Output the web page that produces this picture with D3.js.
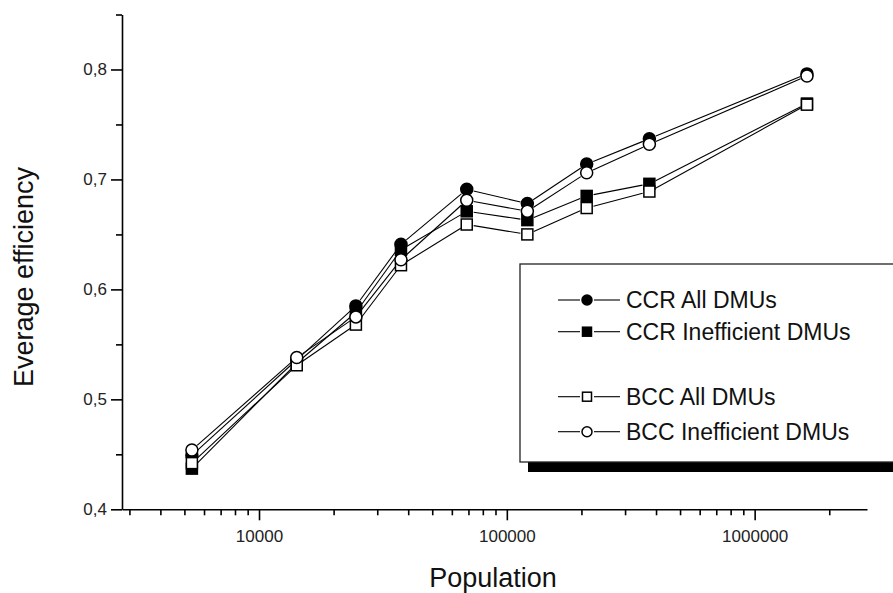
<!DOCTYPE html>
<html>
<head>
<meta charset="utf-8">
<script src="https://cdn.jsdelivr.net/npm/d3@7"></script>
<style>
html,body{margin:0;padding:0;background:#fff;}
svg{display:block;font-family:"Liberation Sans",Arial,sans-serif;}
</style>
</head>
<body>
<svg id="chart" width="893" height="593"></svg>
<script>
// ---- data ----
const population = [5360, 14200, 24600, 37400, 68900, 121000, 210000, 376000, 1626000];
const ccrAll  = [0.449, 0.536, 0.585, 0.641, 0.691, 0.678, 0.714, 0.737, 0.796];
const ccrIneff = [0.437, 0.533, 0.579, 0.636, 0.671, 0.663, 0.685, 0.696, 0.769];
const bccAll  = [0.442, 0.531, 0.568, 0.622, 0.659, 0.650, 0.674, 0.689, 0.768];
const bccIneff = [0.454, 0.538, 0.575, 0.627, 0.681, 0.671, 0.706, 0.732, 0.794];
const seriesNames = ["CCR All DMUs", "CCR Inefficient DMUs", "BCC All DMUs", "BCC Inefficient DMUs"];
const xMajorTicks = [10000, 100000, 1000000];
const xMinorTicks = [3000,4000,5000,6000,7000,8000,9000,20000,30000,40000,50000,60000,70000,80000,90000,200000,300000,400000,500000,600000,700000,800000,900000,2000000];
const yMajorTicks = [0.4, 0.5, 0.6, 0.7, 0.8];
const yMinorTicks = [0.45, 0.55, 0.65, 0.75, 0.85];

const series = [
  {name: seriesNames[0], values: ccrAll,  shape: "circle", fill: "#000"},
  {name: seriesNames[1], values: ccrIneff, shape: "square", fill: "#000"},
  {name: seriesNames[2], values: bccAll,  shape: "square", fill: "#fff"},
  {name: seriesNames[3], values: bccIneff, shape: "circle", fill: "#fff"}
];

const svg = d3.select("#chart");
const x = d3.scaleLog().domain([2800, 2840000]).range([122, 867]);
const y = d3.scaleLinear().domain([0.4, 0.85]).range([509.3, 14.5]);

// ---- axes ----
const fmtY = d => d3.format(".1f")(d).replace(".", ",");
const gx = svg.append("g").attr("transform", `translate(0,${y(0.4)})`);
gx.call(d3.axisBottom(x).tickValues(xMajorTicks).tickSize(11).tickSizeOuter(0).tickPadding(10).tickFormat(d3.format("d")));
const gxm = svg.append("g").attr("transform", `translate(0,${y(0.4)})`);
gxm.call(d3.axisBottom(x).tickValues(xMinorTicks).tickSize(6).tickSizeOuter(0).tickFormat(""));
gxm.select(".domain").remove();

const gy = svg.append("g").attr("transform", `translate(${x(2800)},0)`);
gy.call(d3.axisLeft(y).tickValues(yMajorTicks).tickSize(11).tickSizeOuter(0).tickPadding(4).tickFormat(fmtY));
const gym = svg.append("g").attr("transform", `translate(${x(2800)},0)`);
gym.call(d3.axisLeft(y).tickValues(yMinorTicks).tickSize(6).tickSizeOuter(0).tickFormat(""));
gym.select(".domain").remove();

svg.selectAll(".domain, .tick line").attr("stroke", "#000").attr("stroke-width", 1.6);
svg.selectAll(".tick text").attr("font-size", 17).attr("fill", "#222")
   .attr("font-family", "'Liberation Sans',Arial,sans-serif");

// axis titles
svg.append("text").attr("x", 493).attr("y", 587).attr("text-anchor", "middle")
  .attr("font-size", 27).attr("fill", "#111").text("Population");
svg.append("text").attr("transform", "translate(33,277) rotate(-90)").attr("text-anchor", "middle")
  .attr("font-size", 27).attr("fill", "#111").text("Everage efficiency");

// ---- lines (segments stopping short of markers) ----
const gap = 7;
const lineG = svg.append("g");
series.forEach(s => {
  for (let i = 0; i < population.length - 1; i++) {
    const x1 = x(population[i]), y1 = y(s.values[i]);
    const x2 = x(population[i+1]), y2 = y(s.values[i+1]);
    const dx = x2 - x1, dy = y2 - y1, L = Math.hypot(dx, dy);
    const ux = dx / L, uy = dy / L;
    lineG.append("line")
      .attr("x1", x1 + ux * gap).attr("y1", y1 + uy * gap)
      .attr("x2", x2 - ux * gap).attr("y2", y2 - uy * gap)
      .attr("stroke", "#000").attr("stroke-width", 1.1);
  }
});

// ---- markers ----
function marker(g, shape, fill, cx, cy, size) {
  if (shape === "circle") {
    g.append("circle").attr("cx", cx).attr("cy", cy).attr("r", size / 2)
      .attr("fill", fill).attr("stroke", "#000").attr("stroke-width", 1.5);
  } else {
    const s = size - 1;
    g.append("rect").attr("x", cx - s / 2).attr("y", cy - s / 2).attr("width", s).attr("height", s)
      .attr("fill", fill).attr("stroke", "#000").attr("stroke-width", 1.5);
  }
}
const markG = svg.append("g");
series.forEach(s => {
  population.forEach((p, i) => marker(markG, s.shape, s.fill, x(p), y(s.values[i]), 12));
});

// ---- legend ----
const lg = svg.append("g");
lg.append("rect").attr("x", 528).attr("y", 462).attr("width", 400).attr("height", 10).attr("fill", "#000");
lg.append("rect").attr("x", 520).attr("y", 264).attr("width", 400).attr("height", 198)
  .attr("fill", "#fff").attr("stroke", "#222").attr("stroke-width", 1.3);
const rowY = [300, 331.7, 396.7, 431.7];
series.forEach((s, i) => {
  const ry = rowY[i];
  lg.append("line").attr("x1", 558).attr("x2", 580).attr("y1", ry).attr("y2", ry)
    .attr("stroke", "#000").attr("stroke-width", 1.1);
  lg.append("line").attr("x1", 594).attr("x2", 620).attr("y1", ry).attr("y2", ry)
    .attr("stroke", "#000").attr("stroke-width", 1.1);
  marker(lg, s.shape, s.fill, 587, ry, 10);
  lg.append("text").attr("x", 626).attr("y", ry).attr("dy", "0.35em")
    .attr("font-size", 23).attr("fill", "#111").text(s.name);
});
</script>
</body>
</html>
